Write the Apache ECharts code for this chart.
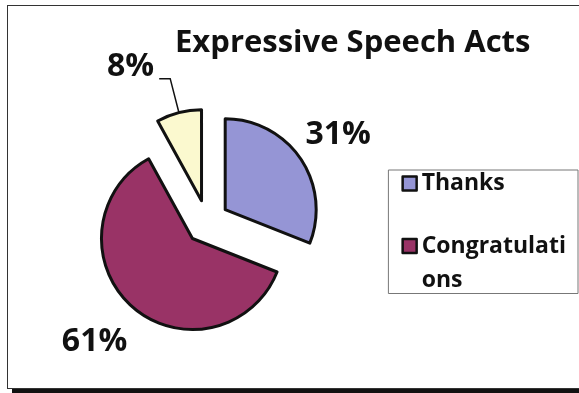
<!DOCTYPE html>
<html>
<head>
<meta charset="utf-8">
<script src="https://cdn.jsdelivr.net/npm/echarts@6/dist/echarts.min.js"></script>
<style>
  html, body { margin: 0; padding: 0; background: #fff; }
  #wrap { position: relative; width: 579px; height: 393px; overflow: hidden; }
  #frame { position: absolute; left: 7px; top: 5px; width: 640px; height: 384px; box-sizing: border-box;
           border: 1px solid #333; box-shadow: 5px 5px 0 #111; }
  #chart { position: absolute; left: 0; top: 0; width: 579px; height: 393px; }
</style>
</head>
<body>
<div id="wrap">
  <div id="frame"></div>
  <div id="chart"></div>
</div>
<script>
const titleText = 'Expressive Speech Acts';
const categories = ['Thanks', 'Congratulations', 'Other'];
const values = [31, 61, 8];
const legendItems = ['Thanks', 'Congratulations'];
const colors = ['#9595D5', '#993366', '#FBF9CF'];

const FONT = '"Open Sans", "Noto Sans", sans-serif';

// per-slice label tuning: line lengths and a spacer line (above / below) to nudge the text
const labelTweaks = [
  { line: false, length: 0, length2: 0, spacer: 'below', h: 48 },
  { line: false, length: 0, length2: 0, spacer: 'above', h: 70 },
  { line: true, length: 35, length2: 11, spacer: 'below', h: 24 }
];

const data = categories.map((name, i) => {
  const t = labelTweaks[i];
  const fmt = t.spacer === 'below' ? '{v|{c}%}\n{s' + i + '|}' : '{s' + i + '|}\n{v|{c}%}';
  return {
    name: name,
    value: values[i],
    selected: true,
    itemStyle: { color: colors[i] },
    label: { formatter: fmt },
    labelLine: { show: t.line, length: t.length, length2: t.length2 }
  };
});

const richLabel = {
  v: { fontFamily: FONT, fontSize: 32, fontWeight: 'bold', color: '#111', lineHeight: 38 }
};
labelTweaks.forEach((t, i) => { richLabel['s' + i] = { lineHeight: t.h, height: t.h, fontSize: 1 }; });

const chart = echarts.init(document.getElementById('chart'), null, { renderer: 'canvas' });
chart.setOption({
  backgroundColor: 'transparent',
  animation: false,
  title: {
    text: titleText,
    left: 170,
    top: 23,
    textStyle: { fontFamily: FONT, fontSize: 31, fontWeight: 'bold', color: '#111' }
  },
  legend: {
    data: legendItems,
    orient: 'vertical',
    right: 1,
    top: 170,
    padding: [2, 12, 2, 13],
    itemGap: 0,
    itemWidth: 14,
    itemHeight: 14,
    icon: 'rect',
    borderColor: '#777',
    borderWidth: 1,
    backgroundColor: '#fff',
    itemStyle: { borderColor: '#111', borderWidth: 2.5 },
    formatter: function (name) {
      if (name === 'Congratulations') return '{e|}\n{b|Congratulati}\n{b|ons}';
      return '{a|' + name + '}';
    },
    textStyle: {
      fontFamily: FONT, fontSize: 23, fontWeight: 'bold', color: '#111',
      rich: {
        a: { fontFamily: FONT, fontSize: 23, fontWeight: 'bold', color: '#111', lineHeight: 26 },
        b: { fontFamily: FONT, fontSize: 23, fontWeight: 'bold', color: '#111', lineHeight: 34 },
        e: { fontSize: 1, lineHeight: 34, height: 34 }
      }
    }
  },
  series: [{
    type: 'pie',
    center: [207, 222],
    radius: 91,
    startAngle: 90,
    clockwise: true,
    selectedMode: 'multiple',
    selectedOffset: 22,
    avoidLabelOverlap: false,
    itemStyle: { borderColor: '#111', borderWidth: 3 },
    emphasis: { disabled: true },
    label: {
      show: true,
      position: 'outside',
      fontFamily: FONT,
      fontSize: 32,
      fontWeight: 'bold',
      color: '#111',
      rich: richLabel
    },
    labelLine: { lineStyle: { color: '#111', width: 1.5 } },
    data: data
  }]
});
</script>
</body>
</html>
